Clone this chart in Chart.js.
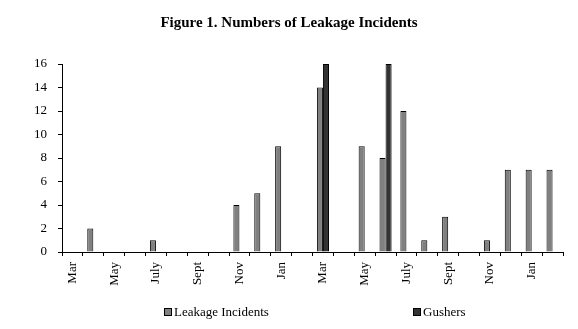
<!DOCTYPE html>
<html>
<head>
<meta charset="utf-8">
<script src="https://cdn.jsdelivr.net/npm/chart.js@4/dist/chart.umd.min.js"></script>
<style>
  body { margin: 0; background: #fff; }
  #wrap { position: relative; width: 578px; height: 329px; }
  .leg { position: absolute; top: 304px; font: 13px 'Liberation Serif', 'Times New Roman', serif; color: #000; white-space: nowrap; }
  .leg span { display: inline-block; width: 6px; height: 6px; border: 1px solid #000; margin-right: 2px; vertical-align: 0px; }
</style>
</head>
<body>
<div id="wrap">
  <canvas id="chart" width="578" height="329"></canvas>
  <div class="leg" style="left:164px"><span style="background:#808080"></span>Leakage Incidents</div>
  <div class="leg" style="left:413px"><span style="background:#333333"></span>Gushers</div>
</div>
<script>
var months = ['Mar', 'Apr', 'May', 'June', 'July', 'Aug', 'Sept', 'Oct', 'Nov', 'Dec', 'Jan', 'Feb',
              'Mar', 'Apr', 'May', 'June', 'July', 'Aug', 'Sept', 'Oct', 'Nov', 'Dec', 'Jan', 'Feb'];
var tickLabels = ['Mar', '', 'May', '', 'July', '', 'Sept', '', 'Nov', '', 'Jan', '',
                  'Mar', '', 'May', '', 'July', '', 'Sept', '', 'Nov', '', 'Jan', ''];
var leakage = [null, 2, null, null, 1, null, null, null, 4, 5, 9, null,
               14, null, 9, 8, 12, 1, 3, null, 1, 7, 7, 7];
var gushers = [null, null, null, null, null, null, null, null, null, null, null, null,
               16, null, null, 16, null, null, null, null, null, null, null, null];

var serif = "'Liberation Serif', 'Times New Roman', serif";
Chart.defaults.font.family = serif;
Chart.defaults.font.size = 13;
Chart.defaults.color = '#000';

var ctx = document.getElementById('chart').getContext('2d');
var chart = new Chart(ctx, {
  type: 'bar',
  data: {
    labels: months,
    datasets: [{
      label: 'Leakage Incidents',
      data: leakage,
      backgroundColor: '#808080',
      borderColor: '#000',
      borderWidth: 1
    }, {
      label: 'Gushers',
      data: gushers,
      backgroundColor: '#333333',
      borderColor: '#000',
      borderWidth: 1
    }]
  },
  options: {
    responsive: false,
    animation: false,
    layout: { padding: { left: 15, right: 15, top: 0, bottom: 0 } },
    datasets: { bar: { categoryPercentage: 0.58, barPercentage: 1.0 } },
    plugins: {
      legend: { display: false },
      tooltip: { enabled: false },
      title: {
        display: true,
        text: 'Figure 1. Numbers of Leakage Incidents',
        color: '#000',
        font: { family: serif, size: 15, weight: 'bold' },
        padding: { top: 14, bottom: 32 }
      }
    },
    scales: {
      x: {
        offset: true,
        grid: { offset: true, drawOnChartArea: false, drawTicks: true, tickLength: 4, color: '#000' },
        border: { color: '#000', width: 1 },
        ticks: {
          autoSkip: false,
          maxRotation: 90,
          minRotation: 90,
          padding: 6,
          callback: function(value, index) { return tickLabels[index]; }
        },
        afterFit: function(scale) { scale.height = 77; }
      },
      y: {
        min: 0,
        max: 16,
        grid: { drawOnChartArea: false, drawTicks: true, tickLength: 4, color: '#000' },
        border: { color: '#000', width: 1 },
        ticks: { stepSize: 2, padding: 11 },
        afterFit: function(scale) { scale.width = 47; }
      }
    }
  }
});
</script>
</body>
</html>
